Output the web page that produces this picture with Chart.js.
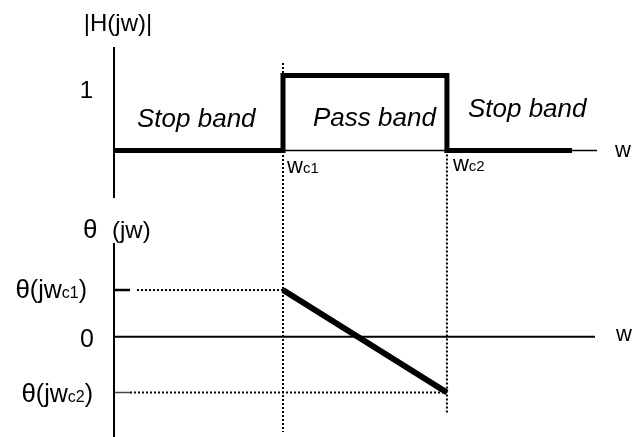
<!DOCTYPE html>
<html><head><meta charset="utf-8">
<script src="https://cdn.jsdelivr.net/npm/chart.js@4/dist/chart.umd.min.js"></script>
<style>html,body{margin:0;padding:0;background:#fff;overflow:hidden}</style>
</head><body>
<canvas id="c" width="634" height="437"></canvas>
<script>
// ---- data (frequency axis in units of wc1) ----
const wc1 = 1.0;
const wc2 = 1.970;
const wEnd = 2.71;          // end of drawn magnitude response
const wAxisEnd = 2.858;     // end of w axis
const magW = [0, wc1, wc1, wc2, wc2, wEnd];
const magValues = [0, 0, 1, 1, 0, 0];
const phaseW = [wc1, wc2];
const phaseValues = [0.84, -1];
const magTickValues = [1];
const magTickLabels = ['1'];
const phaseTickValues = [0.84, 0, -1];
const phaseTickLabels = [['θ', '(jw', 'c1', ')'], ['', '0', '', ''], ['θ', '(jw', 'c2', ')']];
const bandLabels = ['Stop band', 'Pass band', 'Stop band'];
const cutoffLabels = [['w', 'c1'], ['w', 'c2']];

const pts = (xs, ys) => xs.map((x, i) => ({x, y: ys[i]}));
const FAM = '"Liberation Sans", Arial, sans-serif';

function line(data, axis, width, color, dash) {
  return {data, yAxisID: axis, showLine: true, borderColor: color || '#000',
    borderWidth: width, borderDash: dash || [], pointRadius: 0, fill: false,
    clip: false, tension: 0, borderJoinStyle: 'miter', borderCapStyle: 'butt'};
}

const datasets = [
  // magnitude panel axes
  line(pts([0, 0], [1.38, -0.633]), 'ym', 2),
  line(pts([0, wAxisEnd], [0, 0]), 'ym', 1.5),
  // guide lines at cutoff frequencies
  line(pts([wc1, wc1], [1.167, -3.753]), 'ym', 2, '#000', [2, 2]),
  line(pts([wc2, wc2], [0, -3.5]), 'ym', 2, '#000', [2, 2]),
  // magnitude response
  line(pts(magW, magValues), 'ym', 5),
  // phase panel axes
  line(pts([0, 0], [1.684, -1.8]), 'yp', 2),
  line(pts([0, 2.846], [0, 0]), 'yp', 2),
  // phase ticks + dotted guides
  line(pts([0, 0.095], [phaseValues[0], phaseValues[0]]), 'yp', 2.5),
  line(pts([0.136, wc1], [phaseValues[0], phaseValues[0]]), 'yp', 2, '#000', [2, 2]),
  line(pts([0, 0.095], [phaseValues[1], phaseValues[1]]), 'yp', 1.5, '#444'),
  line(pts([0.095, wc2], [phaseValues[1], phaseValues[1]]), 'yp', 2, '#000', [2, 2]),
  // phase response
  line(pts(phaseW, phaseValues), 'yp', 6),
];

const labelPlugin = {
  id: 'labels',
  afterDatasetsDraw(chart) {
    const {ctx, scales: {x, ym, yp}} = chart;
    const X = v => x.getPixelForValue(v);
    const M = v => ym.getPixelForValue(v);
    const P = v => yp.getPixelForValue(v);
    ctx.save();
    ctx.fillStyle = '#000';
    ctx.textBaseline = 'alphabetic';
    const font = (s, st) => `${st || ''} ${s}px ${FAM}`;
    function txt(s, px, py, size, align, st) {
      ctx.font = font(size, st); ctx.textAlign = align || 'left'; ctx.fillText(s, px, py);
    }
    // parts: [greek, main, sub, tail]
    function composite(parts, px, py, align, gSize, mSize, sSize) {
      const [g, m, s, t] = parts;
      const widths = [];
      ctx.font = font(gSize); widths.push(ctx.measureText(g).width);
      ctx.font = font(mSize); widths.push(ctx.measureText(m).width);
      ctx.font = font(sSize); widths.push(ctx.measureText(s).width);
      ctx.font = font(mSize); widths.push(ctx.measureText(t).width);
      const total = widths.reduce((a, b) => a + b, 0);
      let cx = align === 'right' ? px - total : px;
      ctx.textAlign = 'left';
      const sizes = [gSize, mSize, sSize, mSize];
      parts.forEach((p, i) => { ctx.font = font(sizes[i]); ctx.fillText(p, cx, py); cx += widths[i]; });
    }
    // magnitude panel
    txt('|H(jw)|', X(0) + 4, M(0) - 119.5, 24, 'center');
    magTickValues.forEach((v, i) => txt(magTickLabels[i], X(0) - 21, M(v) + 22.5, 24, 'right'));
    txt(bandLabels[0], X(0) + 23, M(0) - 23.5, 26, 'left', 'italic');
    txt(bandLabels[1], X(wc1) + 30, M(0) - 24.5, 26, 'left', 'italic');
    txt(bandLabels[2], X(wc2) + 21, M(0) - 33.5, 26, 'left', 'italic');
    composite(['', cutoffLabels[0][0], cutoffLabels[0][1], ''], X(wc1) + 4, M(0) + 22.5, 'left', 22, 22, 15);
    composite(['', cutoffLabels[1][0], cutoffLabels[1][1], ''], X(wc2) + 6, M(0) + 20.5, 'left', 22, 22, 15);
    txt('w', X(wAxisEnd) + 18, M(0) + 6.5, 22, 'left');
    // phase panel
    txt('θ', X(0) - 31, P(0) - 99, 26, 'left');
    txt('(jw)', X(0) - 2, P(0) - 99, 24, 'left');
    const offs = [[-27, 8], [-20, 10], [-21, 9.5]];
    phaseTickValues.forEach((v, i) => {
      composite(phaseTickLabels[i], X(0) + offs[i][0], P(v) + offs[i][1], 'right', 26, 25, 16);
    });
    txt('w', X(wAxisEnd) + 19, P(0) + 4, 22, 'left');
    ctx.restore();
  }
};

new Chart(document.getElementById('c'), {
  type: 'scatter',
  data: {datasets},
  options: {
    responsive: false, animation: false, devicePixelRatio: 1,
    events: [],
    layout: {padding: {left: 114, right: 37, top: 0, bottom: 0}},
    plugins: {legend: {display: false}, tooltip: {enabled: false}, title: {display: false}},
    scales: {
      x: {type: 'linear', min: 0, max: wAxisEnd, display: false},
      ym: {type: 'linear', axis: 'y', position: 'left', min: -3.82, max: 2.007, display: false},
      yp: {type: 'linear', axis: 'y', position: 'left', min: -1.799, max: 6.047, display: false}
    }
  },
  plugins: [labelPlugin]
});
</script>
</body></html>
